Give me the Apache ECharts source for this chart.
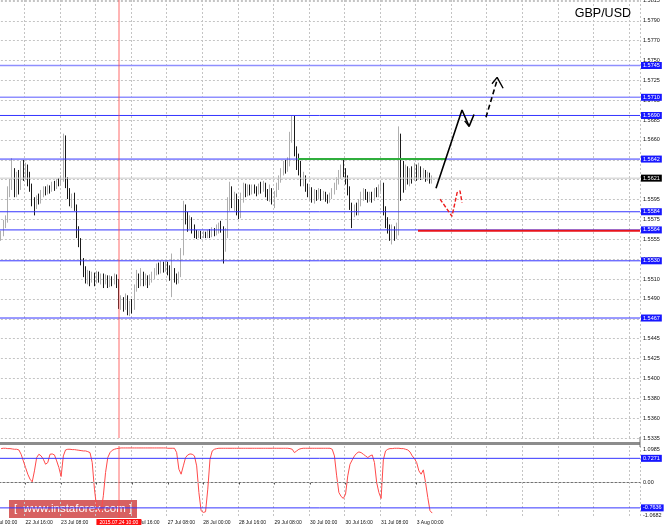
<!DOCTYPE html>
<html><head><meta charset="utf-8">
<script src="https://cdn.jsdelivr.net/npm/echarts@6/dist/echarts.min.js"></script>
<style>html,body{margin:0;padding:0;background:#fff}#c{width:664px;height:529px}</style>
</head><body><div id="c"></div>
<script>
// ---------- DATA ----------
const symbolName = 'GBP/USD';
const categoryCount = 293;          // hourly trading bars shown (incl. empty future)
const firstBar = 5;                 // index of first drawn candle (22 Jul 05:00)
const lastLabelBar = 192;           // 3 Aug 00:00, last labelled time
const opens = [
1.5556,1.5560,1.5570,1.5575,1.5608,1.5612,1.5628,1.5605,1.5622,1.5612,
1.5630,1.5625,1.5633,1.5620,1.5612,1.5596,1.5590,1.5598,1.5596,1.5604,
1.5608,1.5606,1.5610,1.5608,1.5613,1.5611,1.5617,1.5615,1.5620,1.5662,
1.5615,1.5605,1.5596,1.5600,1.5590,1.5560,1.5552,1.5530,1.5520,1.5510,
1.5516,1.5510,1.5514,1.5509,1.5515,1.5510,1.5513,1.5507,1.5512,1.5505,
1.5510,1.5508,1.5512,1.5506,1.5480,1.5486,1.5478,1.5490,1.5476,1.5482,
1.5478,1.5500,1.5512,1.5506,1.5514,1.5508,1.5512,1.5506,1.5511,1.5514,
1.5518,1.5523,1.5520,1.5525,1.5521,1.5526,1.5520,1.5514,1.5518,1.5512,
1.5508,1.5515,1.5540,1.5585,1.5578,1.5570,1.5575,1.5566,1.5560,1.5558,
1.5560,1.5557,1.5560,1.5558,1.5561,1.5559,1.5563,1.5561,1.5565,1.5568,
1.5566,1.5545,1.5560,1.5590,1.5605,1.5595,1.5600,1.5590,1.5580,1.5598,
1.5612,1.5605,1.5610,1.5606,1.5611,1.5609,1.5606,1.5612,1.5609,1.5614,
1.5606,1.5600,1.5605,1.5598,1.5603,1.5612,1.5620,1.5628,1.5635,1.5632,
1.5638,1.5665,1.5682,1.5648,1.5640,1.5635,1.5618,1.5620,1.5612,1.5604,
1.5608,1.5600,1.5605,1.5602,1.5606,1.5601,1.5604,1.5600,1.5598,1.5602,
1.5606,1.5612,1.5618,1.5626,1.5632,1.5628,1.5620,1.5608,1.5590,1.5582,
1.5588,1.5584,1.5594,1.5600,1.5605,1.5602,1.5598,1.5603,1.5600,1.5606,
1.5604,1.5610,1.5612,1.5584,1.5574,1.5566,1.5560,1.5564,1.5558,1.5564,
1.5657,1.5630,1.5615,1.5630,1.5620,1.5628,1.5622,1.5632,1.5624,1.5630,
1.5625,1.5627,1.5622,1.5624,1.5619];
const closes = [
1.5560,1.5570,1.5575,1.5608,1.5612,1.5628,1.5605,1.5622,1.5612,1.5630,
1.5625,1.5633,1.5620,1.5612,1.5596,1.5590,1.5598,1.5596,1.5604,1.5608,
1.5606,1.5610,1.5608,1.5613,1.5611,1.5617,1.5615,1.5620,1.5662,1.5615,
1.5605,1.5596,1.5600,1.5590,1.5560,1.5552,1.5530,1.5520,1.5510,1.5516,
1.5510,1.5514,1.5509,1.5515,1.5510,1.5513,1.5507,1.5512,1.5505,1.5510,
1.5508,1.5512,1.5506,1.5480,1.5486,1.5478,1.5490,1.5476,1.5482,1.5478,
1.5500,1.5512,1.5506,1.5514,1.5508,1.5512,1.5506,1.5511,1.5514,1.5518,
1.5523,1.5520,1.5525,1.5521,1.5526,1.5520,1.5514,1.5518,1.5512,1.5508,
1.5515,1.5540,1.5585,1.5578,1.5570,1.5575,1.5566,1.5560,1.5558,1.5560,
1.5557,1.5560,1.5558,1.5561,1.5559,1.5563,1.5561,1.5565,1.5568,1.5566,
1.5545,1.5560,1.5590,1.5605,1.5595,1.5600,1.5590,1.5580,1.5598,1.5612,
1.5605,1.5610,1.5606,1.5611,1.5609,1.5606,1.5612,1.5609,1.5614,1.5606,
1.5600,1.5605,1.5598,1.5603,1.5612,1.5620,1.5628,1.5635,1.5632,1.5638,
1.5665,1.5682,1.5648,1.5640,1.5635,1.5618,1.5620,1.5612,1.5604,1.5608,
1.5600,1.5605,1.5602,1.5606,1.5601,1.5604,1.5600,1.5598,1.5602,1.5606,
1.5612,1.5618,1.5626,1.5632,1.5628,1.5620,1.5608,1.5590,1.5582,1.5588,
1.5584,1.5594,1.5600,1.5605,1.5602,1.5598,1.5603,1.5600,1.5606,1.5604,
1.5610,1.5612,1.5584,1.5574,1.5566,1.5560,1.5564,1.5558,1.5564,1.5657,
1.5630,1.5615,1.5630,1.5620,1.5628,1.5622,1.5632,1.5624,1.5630,1.5625,
1.5627,1.5622,1.5624,1.5619,1.5621];
const lows = [
1.5552,1.5557,1.5566,1.5572,1.5600,1.5608,1.5600,1.5600,1.5603,1.5608,
1.5618,1.5620,1.5612,1.5606,1.5590,1.5580,1.5587,1.5592,1.5593,1.5600,
1.5602,1.5603,1.5604,1.5606,1.5607,1.5609,1.5612,1.5613,1.5617,1.5610,
1.5598,1.5590,1.5588,1.5585,1.5555,1.5545,1.5525,1.5512,1.5505,1.5504,
1.5502,1.5506,1.5502,1.5505,1.5506,1.5504,1.5500,1.5504,1.5500,1.5501,
1.5502,1.5504,1.5500,1.5477,1.5476,1.5474,1.5476,1.5470,1.5469,1.5472,
1.5476,1.5496,1.5500,1.5502,1.5502,1.5503,1.5500,1.5503,1.5506,1.5510,
1.5514,1.5515,1.5516,1.5517,1.5518,1.5514,1.5508,1.5490,1.5506,1.5504,
1.5505,1.5512,1.5536,1.5570,1.5562,1.5565,1.5560,1.5555,1.5554,1.5555,
1.5554,1.5555,1.5555,1.5555,1.5555,1.5556,1.5557,1.5558,1.5560,1.5561,
1.5527,1.5540,1.5555,1.5585,1.5588,1.5585,1.5580,1.5576,1.5577,1.5594,
1.5600,1.5601,1.5602,1.5603,1.5604,1.5601,1.5603,1.5604,1.5606,1.5600,
1.5596,1.5595,1.5592,1.5588,1.5600,1.5608,1.5616,1.5624,1.5626,1.5628,
1.5634,1.5660,1.5645,1.5630,1.5624,1.5612,1.5612,1.5606,1.5600,1.5596,
1.5594,1.5593,1.5596,1.5598,1.5596,1.5597,1.5595,1.5593,1.5594,1.5598,
1.5603,1.5608,1.5614,1.5620,1.5622,1.5614,1.5602,1.5586,1.5566,1.5578,
1.5580,1.5580,1.5590,1.5596,1.5597,1.5594,1.5595,1.5594,1.5596,1.5600,
1.5600,1.5606,1.5580,1.5566,1.5560,1.5552,1.5548,1.5552,1.5554,1.5558,
1.5596,1.5605,1.5608,1.5614,1.5612,1.5615,1.5618,1.5618,1.5620,1.5619,
1.5620,1.5617,1.5618,1.5615,1.5615];
const highs = [
1.5563,1.5575,1.5580,1.5612,1.5620,1.5643,1.5632,1.5628,1.5630,1.5640,
1.5641,1.5638,1.5636,1.5628,1.5615,1.5600,1.5602,1.5604,1.5608,1.5612,
1.5612,1.5614,1.5613,1.5617,1.5618,1.5620,1.5621,1.5624,1.5670,1.5668,
1.5622,1.5610,1.5604,1.5605,1.5592,1.5568,1.5555,1.5533,1.5524,1.5520,
1.5519,1.5518,1.5517,1.5519,1.5518,1.5516,1.5516,1.5515,1.5514,1.5514,
1.5513,1.5516,1.5515,1.5510,1.5492,1.5490,1.5494,1.5492,1.5486,1.5488,
1.5504,1.5520,1.5516,1.5522,1.5518,1.5516,1.5514,1.5515,1.5518,1.5522,
1.5527,1.5528,1.5530,1.5529,1.5530,1.5529,1.5525,1.5538,1.5522,1.5516,
1.5518,1.5544,1.5596,1.5592,1.5584,1.5580,1.5578,1.5570,1.5564,1.5563,
1.5563,1.5563,1.5562,1.5564,1.5565,1.5567,1.5566,1.5570,1.5572,1.5574,
1.5568,1.5566,1.5600,1.5617,1.5612,1.5606,1.5604,1.5598,1.5605,1.5616,
1.5615,1.5614,1.5614,1.5614,1.5614,1.5612,1.5615,1.5617,1.5618,1.5616,
1.5609,1.5614,1.5610,1.5607,1.5616,1.5624,1.5632,1.5640,1.5641,1.5644,
1.5672,1.5690,1.5690,1.5656,1.5648,1.5640,1.5628,1.5624,1.5615,1.5612,
1.5611,1.5609,1.5608,1.5610,1.5609,1.5607,1.5606,1.5603,1.5605,1.5610,
1.5616,1.5622,1.5630,1.5636,1.5642,1.5632,1.5624,1.5612,1.5594,1.5592,
1.5594,1.5598,1.5606,1.5610,1.5609,1.5606,1.5606,1.5606,1.5610,1.5611,
1.5614,1.5618,1.5616,1.5590,1.5578,1.5570,1.5570,1.5568,1.5572,1.5678,
1.5670,1.5640,1.5636,1.5634,1.5632,1.5634,1.5638,1.5636,1.5638,1.5634,
1.5632,1.5630,1.5628,1.5627,1.5624];
const oscValues = [
1.02,1.03,1.03,1.02,1.02,1.01,1.00,1.00,0.98,0.85,
0.65,0.45,0.25,0.10,0.02,0.35,0.75,0.85,0.80,0.70,
0.55,0.60,0.85,0.86,0.83,0.65,0.45,0.18,0.80,0.98,
1.00,1.00,0.99,0.99,0.98,0.97,0.96,0.95,0.95,0.93,
0.90,0.60,-0.20,-0.75,-0.90,-0.88,-0.40,0.30,0.75,0.90,
0.97,1.00,1.02,1.03,1.04,1.04,1.04,1.04,1.04,1.04,
1.04,1.04,1.04,1.04,1.04,1.04,1.04,1.04,1.04,1.04,
1.04,1.04,1.04,1.04,1.04,1.03,1.03,1.03,1.03,0.90,
0.40,0.25,0.50,0.75,0.83,0.86,0.85,0.80,0.50,-0.30,
-0.85,-0.90,-0.88,-0.20,0.70,0.95,1.00,1.02,1.03,1.03,
1.03,1.03,1.03,1.03,1.03,1.03,1.03,1.03,1.03,1.03,
1.03,1.03,1.03,1.03,1.03,1.03,1.03,1.03,1.03,1.03,
1.03,1.03,1.03,1.03,1.03,1.03,1.03,1.03,1.03,1.03,
1.02,1.00,0.90,0.95,1.00,1.02,1.03,1.03,1.03,1.03,
1.03,1.03,1.03,1.03,1.03,1.03,1.03,1.03,1.03,1.00,
0.80,0.20,-0.30,-0.42,-0.48,-0.35,0.20,0.55,0.68,0.80,
0.88,0.92,0.90,0.85,0.80,0.75,0.80,0.83,0.60,0.00,
-0.30,-0.48,0.68,0.95,1.00,1.02,1.02,1.03,1.03,1.03,
1.02,1.02,1.00,0.98,0.92,0.80,0.72,0.60,0.35,0.25,
0.38,0.00,-0.45,-0.85,-0.92];
const priceTickLabels = ['1.5335','1.5360','1.5380','1.5400','1.5425','1.5445','1.5470','1.5490',
  '1.5510','1.5535','1.5555','1.5575','1.5595','1.5620','1.5640','1.5660','1.5685','1.5705',
  '1.5725','1.5750','1.5770','1.5790','1.5815'];
const priceMin = 1.53349, priceMax = 1.581714;
const priceStep = priceMin / 701;
const levelLines = [1.5745, 1.5710, 1.5690, 1.5642, 1.5584, 1.5564, 1.5530, 1.5467];
const currentPrice = 1.5621;
const oscMin = -1.0682, oscMax = 1.0985;
const oscLevels = [0.7271, -0.7636];
const oscLabelValues = [-1.0682, 0, 1.0985];
const oscLabelTexts = ['-1.0682', '0.00', '1.0985'];
const markedBar = 58;                       // 2015.07.24 10:00
const greenSegment = [[138.6, 1.5642], [204.8, 1.5642]];
const redSegment = [[192.6, 1.5563], [292.5, 1.5563]];
const blackSolidPath = [[200.7, 1.5610], [212.4, 1.5696], [215.6, 1.5678], [217.8, 1.5691]];
const blackHookPath = [[213.6, 1.5684], [215.6, 1.5678]];
const blackDashedPath = [[223.2, 1.5688], [228.2, 1.5729]];
const blackArrowHead = [[225.9, 1.5725], [228.2, 1.5732], [230.9, 1.5720]];
const redDashedPath = [[202.5, 1.5598], [207.9, 1.5579], [210.2, 1.5605], [211.5, 1.5607], [212.4, 1.5594]];

// ---------- BUILD ----------
const months = ['Jan','Feb','Mar','Apr','May','Jun','Jul','Aug','Sep','Oct','Nov','Dec'];
const times = [];
(function(){ let t = Date.UTC(2015, 6, 22, 0, 0);
  while (times.length < categoryCount) { const d = new Date(t); const wd = d.getUTCDay();
    if (wd !== 0 && wd !== 6) times.push(t); t += 3600000; } })();
const pad = n => (n < 10 ? '0' : '') + n;
const xLabels = times.map(t => { const d = new Date(t);
  return d.getUTCDate() + ' ' + months[d.getUTCMonth()] + ' ' + pad(d.getUTCHours()) + ':' + pad(d.getUTCMinutes()); });
const fullStamp = t => { const d = new Date(t);
  return d.getUTCFullYear() + '.' + pad(d.getUTCMonth() + 1) + '.' + pad(d.getUTCDate()) + ' ' + pad(d.getUTCHours()) + ':' + pad(d.getUTCMinutes()); };

const candleData = opens.map((o, i) => [i + firstBar, o, closes[i], lows[i], highs[i]]);
const oscData = oscValues.map((v, i) => [i + firstBar, v]);
const every16 = (idx) => idx % 16 === 0;
const labelled = (idx) => idx % 16 === 0 && idx <= lastLabelBar;
const FONT = 'Liberation Sans';
const gridDash = { color: '#c4c4c4', type: [2, 2], width: 1 };
const xEnds = [-0.5, categoryCount - 0.5];

const endBox = (text, bg) => ({ show: true, formatter: text, backgroundColor: bg, color: '#fff',
  fontSize: 5.5, fontFamily: FONT, padding: [1, 2, 0, 2], distance: 1, valueAnimation: false });

// full-width horizontal price line drawn as a two-point series with an end label box
const hLine = (v, color, width, boxColor, xAxisIndex, yAxisIndex) => ({
  type: 'line', xAxisIndex, yAxisIndex, data: [[xEnds[0], v], [xEnds[1], v]],
  symbol: 'none', silent: true, animation: false, z: 4,
  lineStyle: { color, width, type: 'solid' },
  endLabel: endBox(v.toFixed(4), boxColor) });

const overlay = (data, color, type, width, extra) => Object.assign({ type: 'line', xAxisIndex: 2, yAxisIndex: 0, data,
  symbol: 'none', silent: true, animation: false, z: 5,
  lineStyle: { color, type, width } }, extra || {});

const levelSeries = levelLines.map((v, i) => hLine(v, i < 2 ? '#8f8fff' : '#3535ff', i < 2 ? 1.6 : 1, '#1717ff', 2, 0));

const option = {
  animation: false,
  backgroundColor: '#ffffff',
  textStyle: { fontFamily: FONT },
  title: { text: symbolName, right: 28, top: 2,
    textStyle: { fontSize: 12.5, fontWeight: 'normal', color: '#000', fontFamily: FONT } },
  grid: [
    { left: -11.111, right: 24, top: 0, height: 438, outerBoundsMode: 'none', containLabel: false },
    { left: -11.111, right: 24, top: 446, height: 72, outerBoundsMode: 'none', containLabel: false }
  ],
  xAxis: [
    { type: 'category', gridIndex: 0, data: xLabels, boundaryGap: true,
      axisLine: { show: false }, axisTick: { show: false }, axisLabel: { show: false },
      splitLine: { show: true, interval: every16, lineStyle: gridDash } },
    { type: 'category', gridIndex: 1, data: xLabels, boundaryGap: true,
      axisLine: { show: true, lineStyle: { color: '#6f6f6f' } },
      axisTick: { show: true, interval: labelled, alignWithLabel: true, length: 2, lineStyle: { color: '#555' } },
      axisLabel: { show: true, interval: labelled, align: 'left', fontSize: 5, margin: 2, color: '#111', fontFamily: FONT },
      splitLine: { show: true, interval: every16, lineStyle: gridDash } },
    { type: 'value', gridIndex: 0, min: xEnds[0], max: xEnds[1], show: false },
    { type: 'value', gridIndex: 1, min: xEnds[0], max: xEnds[1], show: false }
  ],
  yAxis: [
    { type: 'value', gridIndex: 0, position: 'right', min: priceMin, max: priceMax, interval: priceStep,
      axisLine: { show: true, lineStyle: { color: '#6f6f6f' } },
      axisTick: { show: true, length: 2, lineStyle: { color: '#555' } },
      splitLine: { show: true, lineStyle: gridDash },
      axisLabel: { fontSize: 5.5, margin: 3, color: '#111', fontFamily: FONT, showMaxLabel: false,
        formatter: v => { const f = (v - priceMin) / priceStep; const i = Math.round(f);
          return (Math.abs(f - i) < 0.2 && priceTickLabels[i]) ? priceTickLabels[i] : ''; } } },
    { type: 'value', gridIndex: 1, position: 'right', min: oscMin, max: oscMax,
      axisLine: { show: true, lineStyle: { color: '#6f6f6f' } },
      axisTick: { show: false }, splitLine: { show: false },
      axisLabel: { customValues: oscLabelValues, fontSize: 5.5, margin: 3, color: '#111', fontFamily: FONT,
        showMinLabel: true, showMaxLabel: true,
        verticalAlignMinLabel: 'bottom', verticalAlignMaxLabel: 'top',
        formatter: v => { let best = 0; oscLabelValues.forEach((c, i) => { if (Math.abs(c - v) < Math.abs(oscLabelValues[best] - v)) best = i; });
          return oscLabelTexts[best]; } } }
  ],
  series: [
    hLine(currentPrice, '#c9c9c9', 1, '#000', 2, 0),
    { type: 'candlestick', xAxisIndex: 0, yAxisIndex: 0, data: candleData,
      encode: { x: 0, y: [1, 2, 3, 4] }, barWidth: 1.3, silent: true, z: 3,
      itemStyle: { color: '#a6a6a6', color0: '#000000', borderColor: '#a6a6a6', borderColor0: '#000000', borderWidth: 0.9 },
      markLine: { silent: true, symbol: ['none', 'none'], animation: false, precision: 6,
        data: [{ xAxis: xLabels[markedBar], lineStyle: { color: 'rgba(255,70,70,0.5)', width: 1.6, type: 'solid' }, label: { show: false } }] } }
  ].concat(levelSeries).concat([
    overlay(redSegment, '#e8141c', 'solid', 2),
    overlay(greenSegment, '#2fae3c', 'solid', 2),
    overlay(blackSolidPath, '#000', 'solid', 1.6),
    overlay(blackHookPath, '#000', 'solid', 1.4),
    overlay(blackDashedPath, '#000', [5, 3], 1.6),
    overlay(blackArrowHead, '#000', 'solid', 1.4),
    overlay(redDashedPath, '#ee1c1c', [4, 2], 1.4),
    hLine(oscLevels[0], '#3535ff', 1, '#1717ff', 3, 1),
    hLine(oscLevels[1], '#3535ff', 1, '#1717ff', 3, 1),
    { type: 'line', xAxisIndex: 1, yAxisIndex: 1, data: oscData, symbol: 'none', silent: true,
      lineStyle: { color: '#ff4a4a', width: 1 }, z: 3,
      markLine: { silent: true, symbol: ['none', 'none'], animation: false, precision: 6,
        data: [
          { yAxis: 0, lineStyle: gridDash, label: { show: false } },
          { xAxis: xLabels[markedBar], lineStyle: { color: 'rgba(255,70,70,0.5)', width: 1.6, type: 'solid' },
            label: { show: true, position: 'start', formatter: fullStamp(times[markedBar]), backgroundColor: '#ff1010',
              color: '#fff', fontSize: 5, fontFamily: FONT, padding: [1, 3, 0, 3], distance: 1 } }
        ] } }
  ]),
  graphic: [
    { type: 'rect', left: 0, top: 442, shape: { width: 640, height: 3 }, style: { fill: '#8c8c8c' }, silent: true, z: 10 },
    { type: 'rect', left: 639.5, top: 437, shape: { width: 1, height: 10 }, style: { fill: '#6f6f6f' }, silent: true, z: 10 },
    { type: 'group', left: 9, top: 500, z: 20, silent: true, children: [
      { type: 'rect', shape: { x: 0, y: 0, width: 128, height: 18 }, style: { fill: 'rgba(204,52,52,0.78)' } },
      { type: 'text', x: 64, y: 9, style: { text: '[  www.instaforex.com ]', fill: '#ffffff', font: '11.5px "Liberation Sans"',
        textAlign: 'center', textVerticalAlign: 'middle' } }
    ] }
  ]
};
const chart = echarts.init(document.getElementById('c'), null, { renderer: 'canvas' });
chart.setOption(option);
</script></body></html>
